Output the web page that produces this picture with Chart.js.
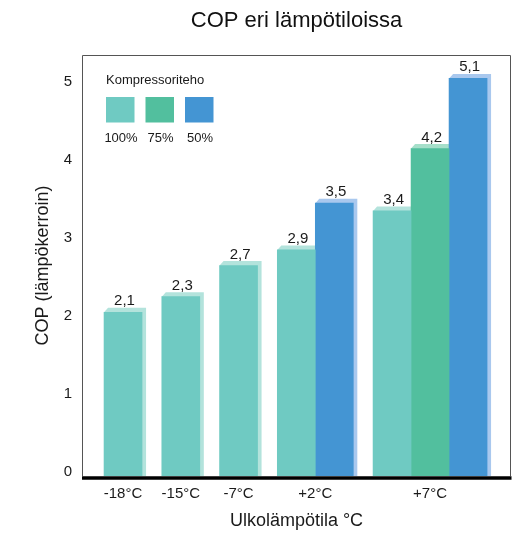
<!DOCTYPE html>
<html>
<head>
<meta charset="utf-8">
<script src="https://cdn.jsdelivr.net/npm/chart.js@4/dist/chart.umd.min.js"></script>
<style>
html, body { margin: 0; padding: 0; background: #fff; }
#wrap { width: 526px; height: 534px; }
</style>
</head>
<body>
<div id="wrap"><canvas id="myChart"></canvas></div>
<script>
var categories = ["-18°C", "-15°C", "-7°C", "+2°C", "+7°C"];
var seriesNames = ["100%", "75%", "50%"];
var cop100 = [2.1, 2.3, 2.7, 2.9, 3.4];
var cop75 = [null, null, null, null, 4.2];
var cop50 = [null, null, null, 3.5, 5.1];
var yTicks = [0, 1, 2, 3, 4, 5];

var barColors = ["#6fcac2", "#52bf9e", "#4495d3"];
var sideColors = ["#b3e3dc", "#a6dfca", "#a9c8ee"];
var FONT = "'Liberation Sans', Arial, Helvetica, sans-serif";
var TEXT = "#1a1a1a";

// bars of one group sit side by side, groups are separated by a gap
var series = [cop100, cop75, cop50];
var GAP = 0.52;
var points = [[], [], []];
var groupCenters = [];
var pos = 0;
categories.forEach(function (c, i) {
  var start = pos;
  series.forEach(function (s, k) {
    if (s[i] !== null) {
      points[k].push({ x: pos + 0.5, y: s[i] });
      pos += 1;
    }
  });
  groupCenters.push((start + pos) / 2);
  pos += GAP;
});
var xMin = -0.58;
var xMax = pos - GAP + 0.63;

// 3D look: light top and right side behind every bar
var extrude = {
  id: "extrude",
  beforeDatasetsDraw: function (chart) {
    var ctx = chart.ctx, dx = 4, dy = -4.5;
    ctx.save();
    chart.data.datasets.forEach(function (ds, k) {
      chart.getDatasetMeta(k).data.forEach(function (bar) {
        var p = bar.getProps(["x", "y", "base", "width"], true);
        var l = p.x - p.width / 2, r = p.x + p.width / 2;
        ctx.fillStyle = sideColors[k];
        ctx.beginPath();
        ctx.moveTo(l, p.y);
        ctx.lineTo(l + dx, p.y + dy);
        ctx.lineTo(r + dx, p.y + dy);
        ctx.lineTo(r + dx, p.base);
        ctx.lineTo(r, p.base);
        ctx.closePath();
        ctx.fill();
      });
    });
    ctx.restore();
  }
};

var valueLabels = {
  id: "valueLabels",
  afterDatasetsDraw: function (chart) {
    var ctx = chart.ctx;
    ctx.save();
    ctx.font = "15px " + FONT;
    ctx.fillStyle = TEXT;
    ctx.textAlign = "center";
    ctx.textBaseline = "alphabetic";
    chart.data.datasets.forEach(function (ds, k) {
      chart.getDatasetMeta(k).data.forEach(function (bar, j) {
        var v = ds.data[j].y;
        ctx.fillText(v.toFixed(1).replace(".", ","), bar.x + 1.5, bar.y - 7);
      });
    });
    ctx.restore();
  }
};

var frame = {
  id: "frame",
  afterDraw: function (chart) {
    var a = chart.chartArea, ctx = chart.ctx;
    ctx.save();
    ctx.strokeStyle = "#555";
    ctx.lineWidth = 1;
    ctx.beginPath();
    ctx.moveTo(a.left + 0.5, a.bottom);
    ctx.lineTo(a.left + 0.5, a.top + 0.5);
    ctx.lineTo(a.right - 0.5, a.top + 0.5);
    ctx.lineTo(a.right - 0.5, a.bottom);
    ctx.stroke();
    ctx.strokeStyle = "#000";
    ctx.lineWidth = 3.5;
    ctx.beginPath();
    ctx.moveTo(a.left, a.bottom + 2);
    ctx.lineTo(a.right + 0.5, a.bottom + 2);
    ctx.stroke();
    ctx.restore();
  }
};

var boxLegend = {
  id: "boxLegend",
  afterDraw: function (chart) {
    var a = chart.chartArea, ctx = chart.ctx;
    var x0 = a.left + 24, y0 = a.top;
    ctx.save();
    ctx.fillStyle = TEXT;
    ctx.font = "13px " + FONT;
    ctx.textBaseline = "alphabetic";
    ctx.textAlign = "left";
    ctx.fillText("Kompressoriteho", x0, y0 + 28.5);
    ctx.textAlign = "center";
    seriesNames.forEach(function (name, k) {
      var x = x0 + k * 39.5;
      ctx.fillStyle = barColors[k];
      ctx.fillRect(x, y0 + 42, 28.5, 25.5);
      ctx.fillStyle = TEXT;
      ctx.fillText(name, x + 15, y0 + 87);
    });
    ctx.restore();
  }
};

new Chart("myChart", {
  type: "bar",
  data: {
    datasets: series.map(function (s, k) {
      return {
        label: seriesNames[k],
        data: points[k],
        backgroundColor: barColors[k],
        grouped: false,
        barPercentage: 1,
        categoryPercentage: 1
      };
    })
  },
  options: {
    responsive: true,
    maintainAspectRatio: false,
    animation: false,
    layout: { padding: { left: 0, right: 15, top: 0, bottom: 0 } },
    plugins: {
      legend: { display: false },
      tooltip: { enabled: false },
      title: {
        display: true,
        text: "COP eri lämpötiloissa",
        fullSize: false,
        color: "#111",
        font: { family: FONT, size: 22, weight: "normal" },
        padding: { top: 8, bottom: 20.6 }
      }
    },
    scales: {
      x: {
        type: "linear",
        min: xMin,
        max: xMax,
        offset: false,
        grid: { display: false, drawTicks: false },
        border: { display: false },
        afterBuildTicks: function (s) {
          s.ticks = groupCenters.map(function (v) { return { value: v }; });
        },
        afterFit: function (s) { s.height = 58; },
        ticks: {
          autoSkip: false,
          maxRotation: 0,
          padding: 9,
          color: TEXT,
          font: { family: FONT, size: 15 },
          callback: function (v, i) { return categories[i]; }
        },
        title: {
          display: true,
          text: "Ulkolämpötila °C",
          color: TEXT,
          font: { family: FONT, size: 18 },
          padding: { top: 0, bottom: 2 }
        }
      },
      y: {
        min: 0,
        max: 5.4,
        grid: { display: false, drawTicks: false },
        border: { display: false },
        afterBuildTicks: function (s) {
          s.ticks = yTicks.map(function (v) { return { value: v }; });
        },
        afterFit: function (s) { s.width = 82; },
        ticks: {
          padding: 10,
          labelOffset: -4,
          color: TEXT,
          font: { family: FONT, size: 15 }
        },
        title: {
          display: true,
          text: "COP (lämpökerroin)",
          color: TEXT,
          font: { family: FONT, size: 18 },
          padding: { top: 32, bottom: 0 }
        }
      }
    }
  },
  plugins: [extrude, valueLabels, frame, boxLegend]
});
</script>
</body>
</html>
